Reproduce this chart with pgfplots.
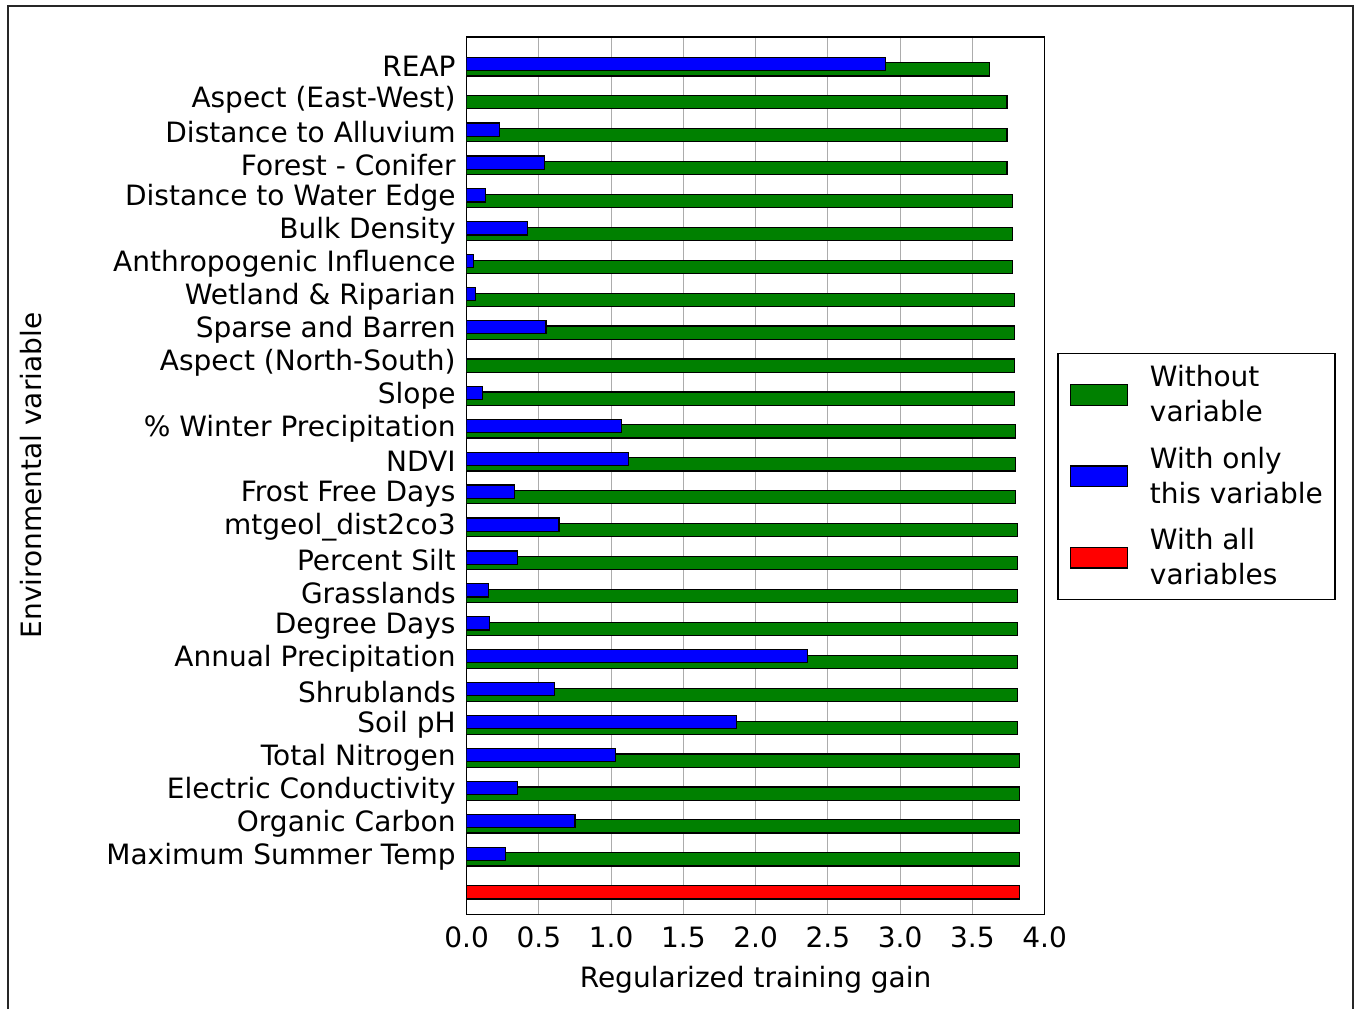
\documentclass[border=0pt]{standalone}
\usepackage{fontspec}
\setmainfont{DejaVu Sans}
\usepackage{pgfplots}
\pgfplotsset{compat=1.18}
\usepackage{pgfplotstable}
\definecolor{mplgreen}{rgb}{0,0.5,0}
\definecolor{mplblue}{rgb}{0,0,1}
\definecolor{mplred}{rgb}{1,0,0}
\pgfplotsset{mylegend/.style={legend image code/.code={\draw[##1,draw=black,line width=0.6pt] (0pt,-5.2pt) rectangle (28.3pt,5.2pt);}}}

\pgfplotstableread{
k without only
0 3.62 2.90
1 3.74 0
2 3.74 0.23
3 3.74 0.54
4 3.78 0.13
5 3.78 0.42
6 3.78 0.05
7 3.79 0.06
8 3.79 0.55
9 3.79 0
10 3.79 0.11
11 3.80 1.07
12 3.80 1.12
13 3.80 0.33
14 3.81 0.64
15 3.81 0.35
16 3.81 0.15
17 3.81 0.16
18 3.81 2.36
19 3.81 0.61
20 3.81 1.87
21 3.825 1.03
22 3.825 0.35
23 3.825 0.75
24 3.825 0.27
}\gaindata

\pgfplotstableread{
k all
25 3.825
}\alldata

\begin{document}
\begin{tikzpicture}
\draw[line width=0.6pt, black!85] (4pt,-504.5pt) -- (4pt,-3pt) -- (676.5pt,-3pt) -- (676.5pt,-504.5pt);
\begin{axis}[
  at={(233.3pt,-457.15pt)}, anchor=south west,
  scale only axis, width=289pt, height=438.8pt,
  xmin=0, xmax=4, ymin=-0.906, ymax=25.754, y dir=reverse,
  axis line style={line width=0.8pt},
  xtick={0,0.5,1,1.5,2,2.5,3,3.5,4},
  ytick={0,...,24},
  yticklabels={REAP,Aspect (East-West),Distance to Alluvium,Forest - Conifer,Distance to Water Edge,Bulk Density,Anthropogenic Influence,Wetland \& Riparian,Sparse and Barren,Aspect (North-South),Slope,\% Winter Precipitation,NDVI,Frost Free Days,mtgeol\_dist2co3,Percent Silt,Grasslands,Degree Days,Annual Precipitation,Shrublands,Soil pH,Total Nitrogen,Electric Conductivity,Organic Carbon,Maximum Summer Temp},
  ytick style={draw=none},
  xtick style={draw=none},
  xmajorgrids, grid style={gray!65, line width=0.5pt},
  tick label style={font=\fontsize{14}{16.8}\selectfont},
  xticklabel style={inner sep=0pt, yshift=-6.2pt, /pgf/number format/.cd, fixed, fixed zerofill, precision=1, assume math mode=true},
  yticklabel style={inner sep=0pt, xshift=-5.3pt},
  xlabel={Regularized training gain},
  ylabel={Environmental variable},
  label style={font=\fontsize{14}{16.8}\selectfont},
  xlabel style={at={(axis description cs:0.5,-0.08284)}, anchor=base},
  ylabel style={at={(axis description cs:-0.7351,0.5)}, anchor=base, rotate=0},
  legend style={at={(axis description cs:1.0222,0.6399)}, anchor=north west,
    draw=black, line width=0.7pt, inner xsep=6pt, inner ysep=6pt,
    row sep=11pt, column sep=11pt,
    font=\fontsize{14}{17.5}\selectfont,
    cells={anchor=west, align=left},
    nodes={inner sep=0pt}},
]
\addplot[xbar, bar shift=0pt, bar width=6.6pt, fill=mplgreen, draw=black, line width=0.6pt, mylegend]
  table[x=without, y expr=\thisrow{k}+0.085] {\gaindata};
\addlegendentry{Without\\variable}
\addplot[xbar, bar shift=0pt, bar width=6.6pt, fill=mplblue, draw=black, line width=0.6pt, mylegend]
  table[x=only, y expr=\thisrow{k}-0.085] {\gaindata};
\addlegendentry{With only\\this variable}
\addplot[xbar, bar shift=0pt, bar width=6.6pt, fill=mplred, draw=black, line width=0.6pt, mylegend]
  table[x=all, y expr=\thisrow{k}+0.085] {\alldata};
\addlegendentry{With all\\variables}
\end{axis}
\pgfresetboundingbox
\path (0pt,0pt) rectangle (677pt,-504.5pt);
\end{tikzpicture}
\end{document}
